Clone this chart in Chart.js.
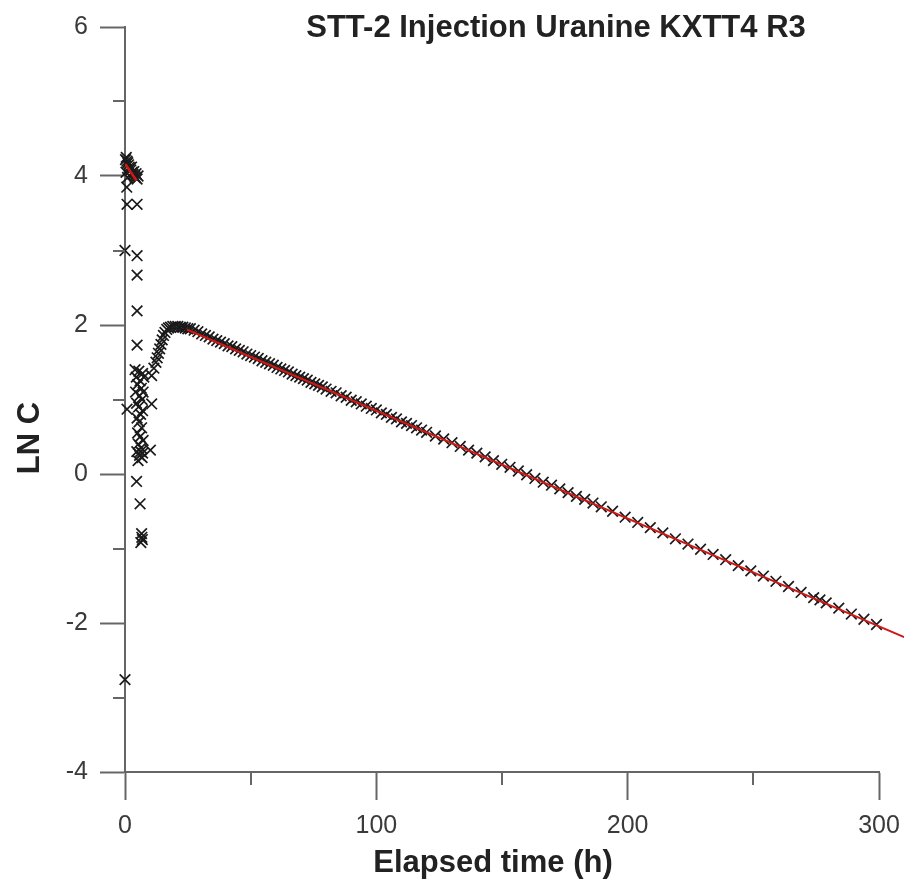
<!DOCTYPE html>
<html>
<head>
<meta charset="utf-8">
<script src="https://cdn.jsdelivr.net/npm/chart.js@4.4.1/dist/chart.umd.min.js"></script>
<style>
  html, body { margin: 0; padding: 0; background: #fff; }
  #wrap { width: 904px; height: 882px; }
</style>
</head>
<body>
<div id="wrap"><canvas id="lnChart" width="904" height="882"></canvas></div>
<script>
// measured points, early part (injection spike + rise)
var spikeHours = [0.2, 0.4, 0.5, 0.8, 1.0, 1.1, 1.4, 1.7, 2.0, 2.3, 2.6, 2.9, 3.2, 3.5, 3.8, 4.1, 4.4, 4.8, 5.2,
  0.7, 0.8, 4.8, 0.0, 4.8, 4.8, 4.8, 4.8,
  4.0, 5.5, 7.0, 4.5, 6.0, 7.5, 5.0, 6.5, 4.2, 7.2, 5.8, 6.8, 4.6, 5.4, 7.0, 6.2, 4.8, 5.6, 6.6, 5.0,
  6.0, 7.2, 5.3, 6.4, 4.7, 5.8, 6.8, 5.2, 6.2, 7.0,
  0.8, 10.6, 10.6, 10.1, 4.6, 6.0, 6.6, 6.9, 6.3, 6.7, 0.0,
  11.5, 12.3, 12.8, 13.3, 13.8, 14.3, 14.8, 15.3, 15.9, 16.6, 17.3, 18.1, 19.0, 20.0, 21.0, 22.0, 23.0, 24.0, 25.0];
var spikeLnC = [4.22, 4.05, 4.25, 4.20, 3.98, 4.18, 4.15, 4.12, 4.10, 4.08, 4.12, 4.05, 4.02, 4.06, 4.00, 3.98, 4.03, 3.96, 4.00,
  3.85, 3.62, 3.62, 3.00, 2.93, 2.67, 2.19, 1.73,
  1.40, 1.38, 1.35, 1.30, 1.25, 1.30, 1.20, 1.15, 1.10, 1.10, 1.05, 1.00, 0.95, 0.90, 0.85, 0.80, 0.75, 0.70, 0.62, 0.55,
  0.50, 0.45, 0.40, 0.35, 0.30, 0.25, 0.22, 0.18, 0.30, 0.28,
  0.87, 1.32, 0.94, 0.32, -0.10, -0.40, -0.80, -0.88, -0.92, -0.85, -2.76,
  1.42, 1.50, 1.56, 1.62, 1.68, 1.74, 1.80, 1.86, 1.90, 1.94, 1.96, 1.97, 1.98, 1.98, 1.98, 1.97, 1.97, 1.96, 1.95];

// measured points, recession tail
var tailHours = [26, 27.5, 29, 30.5, 32, 33.5, 35, 36.5, 38, 39.5, 41, 42.5, 44, 45.5, 47, 48.5, 50, 51.5, 53, 54.5,
  56, 57.5, 59, 60.5, 62, 63.5, 65, 66.5, 68, 69.5, 71, 72.5, 74, 75.5, 77, 78.5, 80,
  82, 84, 86, 88, 90, 92, 94, 96, 98, 100, 102, 104, 106, 108, 110, 112, 114, 116, 118, 120,
  123.5, 126.8, 130.1, 133.4, 136.7, 140, 143.3, 146.6, 149.9, 153.2, 156.5, 159.8, 163.1, 166.4, 169.7,
  173, 176.3, 179.6, 182.9, 186.2, 189.5,
  194, 199, 204, 209, 214, 219, 224, 229, 234, 239, 244, 249, 254, 259, 264, 269, 274, 276.5, 279, 284, 289, 294, 299];
var tailLnC = [1.95, 1.93, 1.91, 1.88, 1.86, 1.84, 1.81, 1.79, 1.77, 1.75, 1.72, 1.71, 1.68, 1.66, 1.64, 1.61, 1.59, 1.57, 1.55, 1.52,
  1.50, 1.48, 1.46, 1.43, 1.41, 1.39, 1.37, 1.34, 1.32, 1.30, 1.28, 1.26, 1.23, 1.21, 1.19, 1.17, 1.14,
  1.11, 1.09, 1.05, 1.03, 0.99, 0.97, 0.94, 0.91, 0.88, 0.86, 0.82, 0.80, 0.76, 0.74, 0.70, 0.68, 0.65, 0.62, 0.59, 0.56,
  0.51, 0.47, 0.42, 0.37, 0.32, 0.28, 0.23, 0.18, 0.13, 0.09, 0.04, -0.01, -0.06, -0.11, -0.15,
  -0.20, -0.25, -0.30, -0.34, -0.39, -0.44,
  -0.50, -0.58, -0.65, -0.72, -0.79, -0.87, -0.94, -1.01, -1.08, -1.15, -1.23, -1.30, -1.37, -1.44, -1.51, -1.59, -1.66, -1.69, -1.73, -1.80, -1.88, -1.95, -2.02];

// fitted lines (red)
var fitTopHours = [0.1, 4.6];
var fitTopLnC = [4.16, 3.94];
var fitHours = [24.6, 310];
var fitLnC = [1.94, -2.19];

var xMajor = [0, 100, 200, 300];
var xMinor = [50, 150, 250];
var yMinor = [-3, -1, 1, 3, 5];

function pairs(xs, ys) {
  var out = [];
  for (var i = 0; i < xs.length; i++) out.push({x: xs[i], y: ys[i]});
  return out;
}

var axisGrey = '#666';
var txtGrey = '#3a3a3a';

var extraText = {
  id: 'extraText',
  afterDraw: function(chart) {
    var c = chart.ctx;
    var xs = chart.scales.x, ys = chart.scales.y;
    c.save();
    c.strokeStyle = axisGrey;
    c.lineWidth = 2;
    // minor ticks
    xMinor.forEach(function(v) {
      var px = Math.round(xs.getPixelForValue(v));
      c.beginPath(); c.moveTo(px, xs.top); c.lineTo(px, xs.top + 13); c.stroke();
    });
    yMinor.forEach(function(v) {
      var py = Math.round(ys.getPixelForValue(v));
      c.beginPath(); c.moveTo(ys.right, py); c.lineTo(ys.right - 12, py); c.stroke();
    });
    // titles
    c.fillStyle = '#222';
    c.textAlign = 'center';
    c.textBaseline = 'middle';
    c.font = 'bold 31px "Liberation Sans", Arial, sans-serif';
    c.fillText('STT-2 Injection Uranine KXTT4 R3', 556, 28);
    c.fillText('Elapsed time (h)', 493, 863);
    c.translate(30, 438);
    c.rotate(-Math.PI / 2);
    c.fillText('LN C', 0, 0);
    c.restore();
  }
};

var ctx = document.getElementById('lnChart').getContext('2d');
var myChart = new Chart(ctx, {
  type: 'scatter',
  data: {
    datasets: [{
      type: 'line',
      data: pairs(fitHours, fitLnC),
      borderColor: '#d01818',
      borderWidth: 2,
      pointRadius: 0,
      fill: false,
      clip: false,
      order: 0
    }, {
      type: 'line',
      data: pairs(fitTopHours, fitTopLnC),
      borderColor: '#d01818',
      borderWidth: 2.5,
      pointRadius: 0,
      fill: false,
      order: 0
    }, {
      data: pairs(spikeHours, spikeLnC).concat(pairs(tailHours, tailLnC)),
      pointStyle: 'crossRot',
      pointRadius: 7.5,
      borderColor: '#1a1a1a',
      borderWidth: 1.7,
      backgroundColor: '#1a1a1a',
      clip: false,
      order: 1
    }]
  },
  options: {
    responsive: false,
    animation: false,
    devicePixelRatio: 1,
    layout: {
      padding: {top: 22, right: 25, left: 0, bottom: 0}
    },
    plugins: {
      legend: {display: false},
      tooltip: {enabled: false}
    },
    scales: {
      x: {
        type: 'linear',
        min: 0,
        max: 300,
        afterFit: function(scale) { scale.height = 110; },
        border: {display: true, color: axisGrey, width: 2},
        grid: {
          drawOnChartArea: false,
          tickLength: 28,
          tickWidth: 2,
          tickColor: function(c) { return xMajor.indexOf(c.tick.value) >= 0 ? axisGrey : 'rgba(0,0,0,0)'; }
        },
        ticks: {
          stepSize: 50,
          padding: 3,
          color: txtGrey,
          font: {family: '"Liberation Sans", Arial, sans-serif', size: 25, lineHeight: 1.88},
          maxRotation: 0,
          callback: function(v) { return xMajor.indexOf(v) >= 0 ? String(v) : ''; }
        }
      },
      y: {
        type: 'linear',
        min: -4,
        max: 6,
        afterFit: function(scale) { scale.width = 125; },
        border: {display: true, color: axisGrey, width: 2},
        grid: {
          drawOnChartArea: false,
          tickLength: 25,
          tickWidth: 2,
          tickColor: function(c) { return c.tick.value % 2 === 0 ? axisGrey : 'rgba(0,0,0,0)'; }
        },
        ticks: {
          stepSize: 1,
          padding: 12,
          color: txtGrey,
          font: {family: '"Liberation Sans", Arial, sans-serif', size: 25},
          callback: function(v) { return v % 2 === 0 ? String(v) : ''; }
        }
      }
    }
  },
  plugins: [extraText]
});
</script>
</body>
</html>
